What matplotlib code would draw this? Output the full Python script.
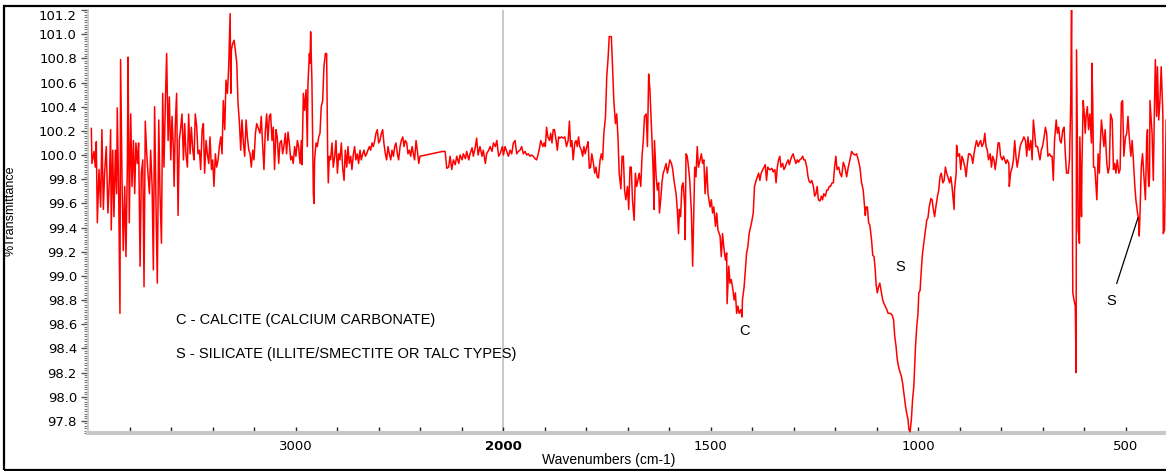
import numpy as np
import matplotlib
matplotlib.use("Agg")
import matplotlib.pyplot as plt
from matplotlib.patches import Rectangle
from matplotlib.ticker import FixedLocator, MultipleLocator, FormatStrFormatter

plt.rcParams['font.family'] = ['Liberation Sans', 'DejaVu Sans']

# spectrum: wavenumber (cm-1) and %T
wavenumber = [
    3984, 3981, 3971, 3965, 3960, 3955, 3947, 3939, 3933, 3926, 3920, 3912, 3904, 3897, 3891, 3888,
    3881, 3875, 3868, 3862, 3859, 3852, 3846, 3843, 3836, 3830, 3823, 3817, 3810, 3807, 3801, 3794,
    3788, 3781, 3775, 3769, 3762, 3756, 3749, 3743, 3736, 3730, 3724, 3717, 3711, 3704, 3698, 3691,
    3685, 3679, 3672, 3666, 3659, 3653, 3646, 3640, 3634, 3627, 3621, 3614, 3608, 3601, 3595, 3589,
    3585, 3579, 3573, 3566, 3560, 3553, 3547, 3540, 3534, 3528, 3521, 3515, 3508, 3502, 3495, 3489,
    3483, 3476, 3470, 3463, 3457, 3450, 3444, 3438, 3431, 3425, 3418, 3412, 3405, 3399, 3393, 3386,
    3380, 3373, 3367, 3360, 3354, 3348, 3341, 3335, 3328, 3322, 3315, 3312, 3309, 3303, 3296, 3290,
    3283, 3277, 3270, 3264, 3258, 3251, 3245, 3238, 3232, 3225, 3219, 3213, 3206, 3200, 3193, 3187,
    3171, 3165, 3158, 3152, 3146, 3139, 3133, 3126, 3120, 3113, 3107, 3101, 3094, 3088, 3081, 3075,
    3068, 3062, 3056, 3049, 3043, 3036, 3030, 3023, 3017, 3011, 3004, 2998, 2991, 2985, 2978, 2972,
    2969, 2962, 2956, 2949, 2943, 2940, 2933, 2930, 2927, 2921, 2914, 2911, 2908, 2901, 2895, 2888,
    2882, 2876, 2869, 2863, 2856, 2850, 2845, 2842, 2837, 2831, 2824, 2818, 2811, 2805, 2798, 2792,
    2786, 2779, 2773, 2766, 2760, 2753, 2747, 2741, 2734, 2728, 2721, 2715, 2709, 2702, 2696, 2689,
    2683, 2676, 2670, 2663, 2657, 2651, 2644, 2638, 2631, 2625, 2618, 2612, 2606, 2599, 2593, 2586,
    2580, 2574, 2567, 2561, 2554, 2548, 2541, 2535, 2528, 2522, 2516, 2509, 2503, 2496, 2490, 2483,
    2477, 2471, 2464, 2458, 2451, 2445, 2438, 2432, 2426, 2419, 2413, 2406, 2400, 2291,
    2279, 2271, 2262, 2255, 2247, 2239, 2230, 2223, 2213, 2207, 2197, 2191, 2181, 2175, 2165, 2159,
    2149, 2143, 2133, 2127, 2120, 2111, 2101, 2095, 2085, 2079, 2069, 2062, 2053, 2046, 2037, 2030,
    2021, 2014,
    2003, 1999, 1995, 1991, 1987, 1983, 1979, 1975, 1971, 1967, 1963, 1959, 1955, 1951, 1947, 1943,
    1939, 1935, 1931, 1927, 1923, 1919, 1915, 1912, 1909, 1904, 1901, 1898, 1895, 1892, 1888, 1885,
    1882, 1879, 1876, 1872, 1869, 1866, 1863, 1859, 1855, 1851, 1847, 1843, 1840, 1837, 1834, 1831,
    1827, 1824, 1821, 1818, 1815, 1811, 1808, 1805, 1802, 1798, 1795, 1792, 1789, 1786, 1782, 1779,
    1776, 1773, 1770, 1766, 1763, 1760, 1757, 1753, 1750, 1747, 1744, 1739, 1736, 1733, 1729, 1726,
    1723, 1720, 1716, 1713, 1710, 1707, 1704, 1700, 1697, 1694, 1691, 1688, 1684, 1681, 1678, 1675,
    1672, 1668, 1665, 1662, 1659, 1655, 1652, 1649, 1646, 1643, 1641, 1638, 1636, 1635, 1631, 1628,
    1625, 1623, 1620, 1617, 1614, 1611, 1607, 1604, 1601, 1598, 1594, 1591, 1588, 1583, 1580, 1577,
    1575, 1572, 1569, 1566, 1562, 1561, 1559, 1556, 1553, 1550, 1546, 1543, 1541, 1538, 1535, 1532,
    1529, 1525, 1522, 1519, 1516, 1513, 1509, 1506, 1505, 1501, 1498, 1495, 1492, 1488, 1485, 1482,
    1477, 1474, 1471, 1468, 1464, 1461, 1460, 1456, 1453, 1450, 1447, 1443, 1440, 1437, 1434, 1431,
    1427, 1424, 1423, 1419, 1416, 1413, 1410, 1407, 1403, 1400, 1397, 1394, 1390, 1387, 1384, 1381,
    1378, 1374, 1371, 1368, 1365, 1362, 1358, 1355, 1352, 1349, 1345, 1342, 1339, 1336, 1333, 1330,
    1326, 1323, 1320, 1317, 1313, 1310, 1307, 1304, 1301, 1297, 1294, 1291, 1288, 1285, 1281, 1278,
    1275, 1272, 1268, 1265, 1262, 1259, 1256, 1252, 1249, 1246, 1243, 1240, 1236, 1233, 1230, 1227,
    1223, 1220, 1217, 1214, 1211, 1207, 1204, 1201, 1198, 1195, 1191, 1188,
    1184, 1180, 1176, 1172, 1168, 1164, 1160, 1156, 1152, 1148, 1144, 1140, 1136, 1132, 1130, 1127,
    1125, 1122, 1119, 1116, 1112, 1109, 1106, 1103, 1101, 1098, 1095, 1092, 1088, 1085, 1082, 1079,
    1075, 1072, 1067, 1063, 1059, 1056, 1053, 1050, 1047, 1043, 1040, 1037, 1034, 1030, 1027, 1024,
    1022, 1019, 1016, 1013, 1010, 1006, 1003, 1000, 998, 995, 992, 989, 985, 982, 979, 976,
    973, 969, 966, 963, 960, 957, 953, 950, 947, 944, 940, 937, 934, 931, 928, 924,
    921, 918, 915, 913, 912, 908, 907, 904, 900, 897, 894, 891, 887, 884, 881, 878,
    875, 871, 868, 865, 862, 859, 855, 852, 849, 846, 842, 839, 836, 833, 830, 826,
    823, 820, 817, 814, 810, 807, 804, 801, 797, 794, 791, 788, 785, 781, 780, 777,
    773, 770, 767, 764, 761, 757, 754, 751, 748, 745, 741, 738, 735, 732, 728, 725,
    722, 719, 716, 712, 709, 706, 703, 700, 696, 693, 690, 687, 683, 680, 677, 674,
    671, 667, 664, 661, 658, 655, 651, 648, 645, 642, 638, 635, 632, 630, 629, 627,
    624, 621, 619, 618, 614, 613, 611, 610, 606, 605, 602, 600, 597, 595, 592, 589,
    586, 582, 581, 579, 577, 574, 571, 569, 566, 563, 561, 558, 555, 552, 549, 545,
    542, 539, 536, 532, 529, 526, 523, 520, 516, 513, 510, 507, 504, 500, 497, 494,
    491, 487, 484, 481, 478, 475, 471, 468, 467, 465, 463, 462, 459, 455, 452, 449,
    447, 446, 444, 442, 441, 439, 436, 433, 430, 428, 425, 423, 420, 417, 414, 410,
    409, 406, 402,
]
transmittance = [
    100.22, 99.93, 100.03, 99.90, 100.11, 99.44, 99.88, 99.57, 100.21, 99.55, 99.85, 100.07, 99.52, 99.79, 100.21, 99.38,
    100.04, 99.49, 100.04, 99.68, 100.39, 99.68, 98.69, 100.79, 99.79, 99.21, 99.74, 99.16, 99.96, 100.81, 99.44, 100.34,
    99.74, 100.12, 99.68, 100.10, 99.93, 100.10, 99.08, 99.85, 99.96, 98.91, 100.28, 100.01, 99.85, 99.68, 100.04, 99.74,
    99.05, 100.40, 99.55, 98.94, 100.29, 99.68, 99.27, 100.51, 99.90, 100.45, 100.84, 100.12, 100.48, 99.96, 100.32, 100.07,
    99.74, 100.26, 100.51, 99.50, 100.12, 100.23, 100.34, 99.96, 100.26, 100.01, 99.90, 100.34, 100.01, 100.23, 100.04, 99.96,
    100.34, 100.23, 100.01, 100.04, 99.88, 100.21, 100.26, 99.85, 100.12, 100.01, 99.93, 100.15, 99.88, 99.96, 99.74, 100.01,
    99.90, 99.96, 100.07, 100.15, 100.01, 100.45, 100.21, 100.62, 100.51, 100.73, 101.17, 100.51, 100.87, 100.92, 100.95, 100.87,
    100.76, 100.43, 100.26, 100.04, 100.29, 100.10, 99.99, 100.29, 100.15, 100.04, 100.01, 99.90, 100.04, 99.96, 100.18, 100.26,
    100.18, 100.32, 100.07, 99.88, 100.18, 100.34, 100.12, 100.32, 100.34, 100.12, 100.23, 99.88, 100.21, 100.15, 99.93, 100.10,
    100.12, 100.01, 100.07, 100.18, 100.01, 100.19, 100.10, 99.96, 99.99, 99.93, 100.07, 99.99, 100.12, 100.07, 99.93, 100.12,
    99.92, 100.51, 100.37, 100.54, 100.07, 100.59, 100.84, 100.76, 101.02, 100.62, 99.68, 99.60, 99.96, 100.10, 100.07, 100.15,
    100.18, 100.40, 100.45, 100.73, 100.84, 100.84, 100.01, 99.77, 99.99, 99.96, 100.10, 99.90, 99.99, 100.12, 99.85, 100.01,
    99.96, 100.10, 99.90, 99.79, 100.04, 99.90, 100.07, 99.93, 99.99, 99.88, 100.01, 100.07, 99.96, 100.01, 99.93, 100.04,
    99.96, 100.01, 100.04, 99.99, 100.01, 100.04, 100.07, 100.04, 100.10, 100.07, 100.12, 100.18, 100.21, 100.10, 100.12, 100.18,
    100.21, 100.10, 100.01, 99.96, 100.07, 100.01, 99.96, 100.04, 99.99, 100.07, 100.10, 100.01, 99.96, 100.07, 100.12, 100.15,
    100.07, 100.12, 100.10, 100.01, 100.04, 99.99, 100.07, 100.01, 99.96, 100.12, 100.04, 99.93, 99.99, 100.03,
    100.03, 99.89, 99.90, 99.99, 99.88, 99.96, 99.92, 99.99, 99.93, 100.00, 99.96, 100.01, 99.97, 100.03, 99.96, 100.01,
    100.06, 99.99, 100.07, 100.14, 100.00, 100.07, 99.99, 100.04, 99.93, 100.01, 100.04, 100.07, 100.03, 100.10, 100.07, 100.12,
    99.99, 100.01,
    100.07, 100.00, 100.07, 100.03, 99.99, 100.04, 100.01, 100.10, 100.12, 100.01, 100.03, 100.04, 100.07, 100.01, 100.03, 100.00,
    100.01, 99.99, 100.00, 99.99, 99.97, 99.96, 100.01, 100.06, 100.12, 100.07, 100.10, 100.07, 100.23, 100.15, 100.12, 100.18,
    100.10, 100.21, 100.21, 100.12, 100.04, 100.15, 100.14, 100.15, 100.14, 100.15, 100.07, 100.12, 100.28, 100.07, 100.12, 99.96,
    100.10, 100.12, 100.07, 100.15, 100.07, 100.04, 99.99, 100.07, 100.01, 100.07, 100.11, 99.89, 99.90, 100.01, 99.93, 99.85,
    99.90, 99.82, 99.81, 99.96, 100.01, 99.96, 100.18, 100.32, 100.65, 100.79, 100.98, 100.98, 100.73, 100.45, 100.26, 100.34,
    100.15, 99.85, 99.72, 99.99, 99.99, 99.71, 99.63, 99.74, 99.55, 99.90, 99.90, 99.63, 99.46, 99.85, 99.74, 99.79,
    99.85, 99.74, 99.99, 100.12, 100.32, 100.34, 100.07, 100.67, 100.54, 100.29, 100.12, 99.85, 99.55, 100.12, 99.82, 99.71,
    99.77, 99.52, 99.63, 99.77, 99.85, 99.88, 99.93, 99.85, 99.90, 99.96, 99.93, 99.88, 99.79, 99.68, 99.55, 99.35,
    99.55, 99.49, 99.74, 99.77, 99.57, 99.30, 100.01, 99.99, 99.90, 99.79, 99.52, 99.08, 99.41, 99.90, 99.82, 100.07,
    99.90, 99.96, 100.01, 99.93, 99.96, 99.68, 99.90, 99.68, 99.66, 99.57, 99.63, 99.52, 99.57, 99.41, 99.52, 99.38,
    99.33, 99.16, 99.35, 99.24, 99.13, 99.19, 98.77, 99.08, 98.94, 98.97, 98.91, 98.80, 98.86, 98.69, 98.75, 98.69,
    98.72, 98.66, 98.80, 98.91, 99.05, 99.19, 99.24, 99.35, 99.41, 99.46, 99.52, 99.74, 99.79, 99.82, 99.85, 99.79,
    99.85, 99.88, 99.90, 99.92, 99.79, 99.90, 99.88, 99.88, 99.89, 99.86, 99.88, 99.77, 99.90, 99.96, 99.99, 99.90,
    99.93, 99.88, 99.90, 99.93, 99.96, 99.92, 99.96, 99.99, 100.01, 99.96, 99.93, 99.96, 99.94, 99.96, 99.97, 99.99,
    99.96, 99.96, 99.90, 99.82, 99.78, 99.77, 99.79, 99.74, 99.66, 99.68, 99.74, 99.63, 99.62, 99.66, 99.63, 99.68,
    99.66, 99.71, 99.71, 99.74, 99.74, 99.77, 99.77, 99.90, 99.99, 99.88, 99.90, 99.85,
    99.82, 99.94, 99.90, 99.82, 99.90, 99.96, 100.03, 100.01, 100.00, 100.01, 99.96, 99.90, 99.77, 99.71, 99.63, 99.50,
    99.57, 99.57, 99.44, 99.42, 99.30, 99.17, 99.16, 99.05, 98.93, 98.86, 98.91, 98.94, 98.86, 98.80, 98.77, 98.75,
    98.72, 98.69, 98.69, 98.68, 98.64, 98.50, 98.42, 98.31, 98.25, 98.20, 98.17, 98.11, 98.03, 97.92, 97.86, 97.81,
    97.73, 97.71, 97.81, 97.98, 98.09, 98.42, 98.58, 98.69, 98.86, 98.88, 99.05, 99.19, 99.30, 99.38, 99.46, 99.48,
    99.57, 99.64, 99.63, 99.55, 99.49, 99.57, 99.66, 99.71, 99.82, 99.85, 99.77, 99.79, 99.90, 99.85, 99.82, 99.77,
    99.82, 99.74, 99.63, 99.55, 99.71, 99.85, 100.08, 99.99, 100.01, 99.88, 99.99, 99.96, 99.90, 99.82, 99.93, 100.01,
    100.01, 99.99, 99.93, 100.01, 100.07, 100.12, 100.07, 100.10, 100.12, 100.07, 100.10, 100.18, 100.07, 100.04, 99.96, 100.01,
    99.90, 99.99, 99.96, 99.88, 99.99, 100.10, 100.10, 99.99, 99.96, 99.99, 99.96, 99.93, 99.96, 99.93, 99.74, 99.85,
    99.90, 99.96, 100.12, 99.99, 99.90, 99.99, 100.07, 100.10, 100.12, 100.15, 100.12, 99.99, 100.15, 100.04, 100.12, 99.96,
    100.29, 100.18, 100.07, 100.07, 100.01, 99.96, 100.04, 100.07, 100.15, 100.23, 100.18, 99.99, 100.01, 99.99, 99.99, 99.79,
    100.12, 100.29, 100.18, 100.23, 100.12, 100.10, 100.21, 100.23, 100.01, 99.85, 99.85, 99.96, 100.43, 101.20, 100.43, 98.86,
    98.80, 98.75, 98.20, 100.87, 99.38, 99.35, 99.27, 100.15, 99.49, 99.90, 100.45, 100.37, 100.18, 100.32, 100.40, 100.21,
    100.34, 100.10, 100.76, 100.45, 99.90, 99.90, 99.74, 99.63, 100.01, 99.85, 100.07, 100.29, 100.18, 100.07, 100.21, 99.93,
    99.85, 99.90, 100.34, 100.29, 99.88, 99.93, 99.85, 99.96, 99.85, 99.88, 100.43, 100.45, 99.99, 100.15, 100.18, 100.32,
    100.15, 99.99, 100.12, 99.96, 99.77, 99.63, 99.52, 99.46, 99.33, 99.52, 99.79, 99.90, 100.01, 99.79, 99.63, 100.12,
    100.21, 99.90, 99.74, 99.82, 100.45, 100.34, 100.18, 99.79, 100.45, 100.79, 100.32, 100.73, 100.29, 100.45, 100.73, 100.34,
    99.35, 99.38, 100.29,
]

major_ticks = [3000, 2000, 1500, 1000, 500]
minor_ticks = [3800, 3600, 3400, 3200, 2800, 2600, 2400, 2200, 1900, 1800, 1700, 1600,
               1400, 1300, 1200, 1100, 900, 800, 700, 600, 400]
legend_lines = ["C - CALCITE (CALCIUM CARBONATE)", "S - SILICATE (ILLITE/SMECTITE OR TALC TYPES)"]


# OMNIC style axis: region above 2000 cm-1 compressed by 2
def fwd(w):
    w = np.asarray(w, dtype=float)
    return np.where(w > 2000, 2000 + (w - 2000) / 2, w)


def inv(u):
    u = np.asarray(u, dtype=float)
    return np.where(u > 2000, 2000 + (u - 2000) * 2, u)


fig = plt.figure(figsize=(11.66, 4.71), dpi=100)
ax = fig.add_axes([88 / 1166, 38 / 471, 1079 / 1166, 423 / 471])
ax.set_xscale('function', functions=(fwd, inv))

ax.axvline(2000, color='#c4c4c4', lw=1.3, zorder=1)
ax.plot(wavenumber, transmittance, color='#ff0000', lw=1.1, zorder=3)

ax.set_xlim(4000, 400)
ax.set_ylim(97.70, 101.20)

ax.xaxis.set_major_locator(FixedLocator(major_ticks))
ax.xaxis.set_minor_locator(FixedLocator(minor_ticks))
ax.set_xticklabels([str(t) for t in major_ticks])
for lab in ax.get_xticklabels():
    lab.set_family('DejaVu Sans')
    if lab.get_text() == '2000':
        lab.set_fontweight('bold')
ax.tick_params(axis='x', which='both', direction='in', length=4, width=1, color='#222222',
               labelsize=9.5, pad=5)

ax.yaxis.set_major_locator(FixedLocator(np.round(np.arange(97.8, 101.21, 0.2), 1)))
ax.yaxis.set_minor_locator(MultipleLocator(0.02))
ax.yaxis.set_major_formatter(FormatStrFormatter('%.1f'))
ax.tick_params(axis='y', which='major', direction='out', length=5, width=1, color='#555555',
               labelsize=9.5, pad=3)
ax.tick_params(axis='y', which='minor', direction='out', length=3, width=0.8, color='#777777')
for lab in ax.get_yticklabels():
    lab.set_family('DejaVu Sans')
ax.yaxis.get_major_ticks()[-1].label1.set_verticalalignment('top')

for s in ['top', 'right']:
    ax.spines[s].set_visible(False)
ax.spines['bottom'].set_color('#c8c8c8')
ax.spines['bottom'].set_linewidth(3)
ax.spines['left'].set_color('#c8c8c8')
ax.spines['left'].set_linewidth(1.2)

ax.set_xlabel('Wavenumbers (cm-1)', fontsize=10)
ax.xaxis.set_label_coords(0.483, -0.047)
ax.set_ylabel('%Transmittance', fontsize=9)
ax.yaxis.set_label_coords(-0.066, 0.525)

ax.text(0.0816, 0.267, legend_lines[0], transform=ax.transAxes, fontsize=10.5, va='center')
ax.text(0.0816, 0.187, legend_lines[1], transform=ax.transAxes, fontsize=10.5, va='center')

ax.text(1417, 98.54, 'C', fontsize=10.5, ha='center', va='center')
ax.text(1043, 99.07, 'S', fontsize=10.5, ha='center', va='center')
ax.annotate('S', xy=(470, 99.48), xytext=(535, 98.79), fontsize=10.5, ha='center', va='center',
            arrowprops=dict(arrowstyle='-', color='black', lw=0.9, shrinkA=6, shrinkB=0))

fig.add_artist(Rectangle((4 / 1166, 1 / 471), 1.0, 464 / 471, transform=fig.transFigure,
                         fill=False, edgecolor='black', lw=1.6))

fig.savefig('out.png', dpi=100)
